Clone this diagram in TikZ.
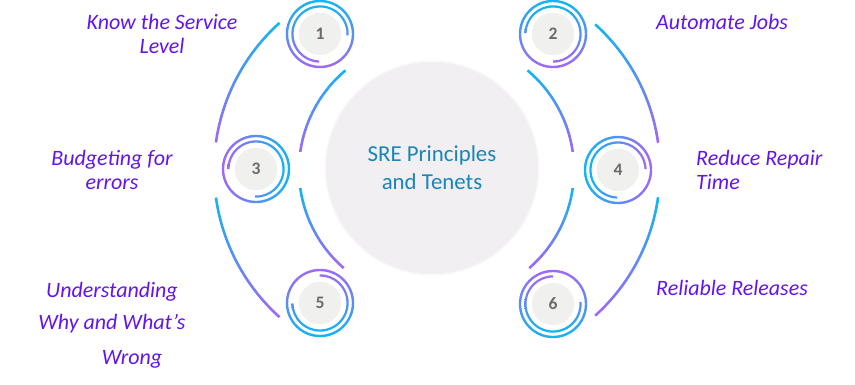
\documentclass[tikz,border=0pt]{standalone}
\usepackage{fontspec}
\setmainfont{Carlito}
\usepackage{tikz}
\usetikzlibrary{calc}

\definecolor{skyc}{HTML}{10B6F2}
\definecolor{violc}{HTML}{A167F6}
\definecolor{labelc}{HTML}{6214F0}
\definecolor{titlec}{HTML}{1A85B8}
\definecolor{diskc}{HTML}{F0F0EE}
\definecolor{hubc}{HTML}{F1EFF1}
\definecolor{numc}{HTML}{6B6B6B}

\begin{document}
\begin{tikzpicture}[x=0.02cm, y=0.02cm,
    blueTop/.style={top color=skyc, bottom color=violc},
    violetTop/.style={top color=violc, bottom color=skyc},
    blueLeft/.style={left color=skyc, right color=violc},
    violetLeft/.style={left color=violc, right color=skyc},
    numdisk/.style={circle, fill=diskc, draw=white, line width=0.8pt, minimum size=0.88cm, inner sep=0pt, font=\fontsize{10}{12}\selectfont\bfseries, text=numc},
    tenet/.style={font=\fontsize{12.5}{13.5}\selectfont\itshape, text=labelc, align=center}]
        \useasboundingbox (0,0) rectangle (855,-385);

        % Centre node
            \node[circle, fill=hubc, draw=white!70!hubc, line width=1pt, minimum size=4.28cm, text=titlec, align=center, font=\fontsize{13}{16}\selectfont] (hub) at (432,-168) {SRE Principles\\and Tenets};

            % Arc centres
            \coordinate (lo) at (412,-170);
            \coordinate (ro) at (464,-170);
            \coordinate (li) at (429,-170);
            \coordinate (ri) at (444,-170);

            % Outer arcs, left and right
            \shade[blueTop] ($(lo)+(132:199.3)$) arc[start angle=132, end angle=172, radius=199.3] -- ($(lo)+(172:196.7)$) arc[start angle=172, end angle=132, radius=196.7] -- cycle;
            \shade[blueTop] ($(lo)+(188:199.3)$) arc[start angle=188, end angle=228, radius=199.3] -- ($(lo)+(228:196.7)$) arc[start angle=228, end angle=188, radius=196.7] -- cycle;
            \shade[blueTop] ($(ro)+(48:197.3)$) arc[start angle=48, end angle=8, radius=197.3] -- ($(ro)+(8:194.7)$) arc[start angle=8, end angle=48, radius=194.7] -- cycle;
            \shade[blueTop] ($(ro)+(-8:197.3)$) arc[start angle=-8, end angle=-48, radius=197.3] -- ($(ro)+(-48:194.7)$) arc[start angle=-48, end angle=-8, radius=194.7] -- cycle;

            % Inner arcs, left and right
            \shade[blueTop] ($(li)+(130:131.3)$) arc[start angle=130, end angle=172, radius=131.3] -- ($(li)+(172:128.7)$) arc[start angle=172, end angle=130, radius=128.7] -- cycle;
            \shade[blueTop] ($(li)+(188:131.3)$) arc[start angle=188, end angle=229, radius=131.3] -- ($(li)+(229:128.7)$) arc[start angle=229, end angle=188, radius=128.7] -- cycle;
            \shade[blueTop] ($(ri)+(50:131.3)$) arc[start angle=50, end angle=8, radius=131.3] -- ($(ri)+(8:128.7)$) arc[start angle=8, end angle=50, radius=128.7] -- cycle;
            \shade[blueTop] ($(ri)+(-8:131.3)$) arc[start angle=-8, end angle=-49, radius=131.3] -- ($(ri)+(-49:128.7)$) arc[start angle=-49, end angle=-8, radius=128.7] -- cycle;

            % Numbered circles
            \node[numdisk] (n1) at (320,-34) {1};
            \node[numdisk] (n2) at (553,-34) {2};
            \node[numdisk] (n3) at (256,-169) {3};
            \node[numdisk] (n4) at (618,-170) {4};
            \node[numdisk] (n5) at (320,-303) {5};
            \node[numdisk] (n6) at (553,-304) {6};

            % Rings round the circles
            \shade[blueTop, even odd rule] (n1.center) circle[radius=34.2] circle[radius=31.8];
            \shade[blueTop, even odd rule] (n2.center) circle[radius=34.2] circle[radius=31.8];
            \shade[violetLeft, even odd rule] (n3.center) circle[radius=34.2] circle[radius=31.8];
            \shade[blueLeft, even odd rule] (n4.center) circle[radius=34.2] circle[radius=31.8];
            \shade[violetTop, even odd rule] (n5.center) circle[radius=34.2] circle[radius=31.8];
            \shade[violetTop, even odd rule] (n6.center) circle[radius=34.2] circle[radius=31.8];

            % Open inner rings
            \shade[blueTop] ($(n1)+(-3:28.7)$) arc[start angle=-3, end angle=268, radius=28.7] -- ($(n1)+(268:26.5)$) arc[start angle=268, end angle=-3, radius=26.5] -- cycle;
            \shade[blueTop] ($(n2)+(-90:28.7)$) arc[start angle=-90, end angle=178, radius=28.7] -- ($(n2)+(178:26.5)$) arc[start angle=178, end angle=-90, radius=26.5] -- cycle;
            \shade[violetLeft] ($(n3)+(-92:28.7)$) arc[start angle=-92, end angle=180, radius=28.7] -- ($(n3)+(180:26.5)$) arc[start angle=180, end angle=-92, radius=26.5] -- cycle;
            \shade[blueLeft] ($(n4)+(2:28.7)$) arc[start angle=2, end angle=268, radius=28.7] -- ($(n4)+(268:26.5)$) arc[start angle=268, end angle=2, radius=26.5] -- cycle;
            \shade[violetTop] ($(n5)+(-179:28.7)$) arc[start angle=-179, end angle=91, radius=28.7] -- ($(n5)+(91:26.5)$) arc[start angle=91, end angle=-179, radius=26.5] -- cycle;
            \shade[violetTop] ($(n6)+(90:28.7)$) arc[start angle=90, end angle=364, radius=28.7] -- ($(n6)+(364:26.5)$) arc[start angle=364, end angle=90, radius=26.5] -- cycle;

            % Labels
            \node[tenet] (know) at (162,-34) {Know the Service\\Level};
            \node[tenet] (budget) at (112,-170) {Budgeting for\\errors};
            \node[tenet] (why) at (112,-325) {Understanding\\[5pt]Why and What’s\\[6pt]\hspace*{0.8cm}Wrong};
            \node[tenet] (auto) at (722,-22) {Automate Jobs};
            \node[tenet, anchor=west, align=left] (repair) at (690,-170) {Reduce Repair\\Time};
            \node[tenet] (release) at (732,-288) {Reliable Releases};
    \end{tikzpicture}
\end{document}
